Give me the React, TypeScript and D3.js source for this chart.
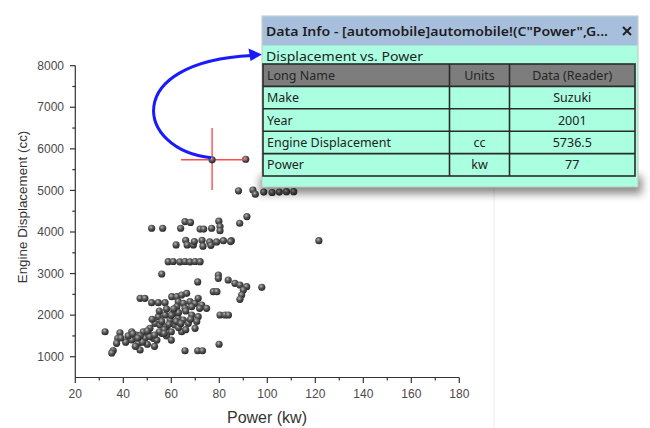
import React from "react";
import * as d3 from "d3";

const power = [
  91, 88, 94, 95, 98.5, 102, 105, 108, 111, 88.5, 91.5, 85, 121.5,
  51.8, 56.4, 63.9, 65.7, 68, 72, 73.5, 76.8, 79.8, 80.3, 80.3,
  62, 66, 66.6, 69.2, 69.6, 72.8, 73.2, 76, 76.5, 78.9, 81.7, 84.7,
  58.7, 60.8, 63.6, 65.7, 67.8, 69.9, 72,
  56, 71, 79.6, 79.6, 83.7, 86.5, 88.6, 91.4, 97.7, 90, 89.3, 88.6, 77.5, 79,
  80.3, 82.4, 83.8, 79.9, 65.7, 71, 73,
  32.4, 38.6, 37.7, 37.2, 35.8, 35.2,
  43.5, 43.5, 45.6, 46.2, 47, 48.3, 49, 50.4, 51.1, 52.5, 53.2, 54.6, 55.3, 56, 57.4, 58.1, 59.5,
  60.8, 61.5, 62.9, 64.3, 65, 67.1, 68.5, 69.9, 71.2,
  47, 49, 51.8, 54.6, 57.4, 60.2, 62.3, 64.3, 66.4, 62.9, 65, 67.8, 69.9, 72.7, 62.3, 65.7, 68.5,
  71.2, 74.7, 71.8, 70.6,
  55, 58, 60, 63, 66, 52, 56, 63, 66, 60, 57, 68, 61, 47, 45, 50, 53, 41, 55, 58, 60, 48, 54, 39, 42, 51, 59, 62, 64,
  44, 46, 50, 53, 57,
];
const displacement = [
  5750, 4990, 5010, 4910, 4960, 4950, 4960, 4970, 4970, 4210, 4370, 3790, 3790,
  4090, 4090, 4090, 4250, 4230, 4070, 4070, 4090, 4260, 4130, 4030,
  3690, 3800, 3690, 3690, 3770, 3800, 3660, 3760, 3680, 3760, 3790, 3770,
  3285, 3290, 3280, 3290, 3280, 3290, 3285,
  2990, 2800, 2965, 2885, 2845, 2766, 2725, 2684, 2670, 2605, 2484, 2380, 2564, 2564,
  2003, 2003, 2003, 1300, 1144, 1144, 1144,
  1601, 1577, 1443, 1322, 1150, 1090,
  1601, 1402, 1522, 1322, 1161, 1601, 1443, 1563, 1683, 1443, 1803, 1962, 1763, 1563, 2003, 1722, 1883,
  2044, 1763, 1924, 1601, 1883, 1803, 2003, 1683, 1962,
  2405, 2405, 2300, 2300, 2300, 2443, 2443, 2484, 2525, 2323, 2285, 2323, 2285, 2244, 2203, 2164, 2203,
  2405, 2164, 2164, 1850,
  2100, 2150, 2000, 2060, 2100, 1900, 1850, 1700, 1650, 1600, 1650, 1900, 2150, 1500, 1250, 1300, 1250, 1350, 1600, 1500, 1400, 1350, 1400, 1450, 1500, 1480, 1780, 1850, 1800,
  1550, 1450, 1620, 1520, 1560,
];
const selectedPower = 77;
const selectedDisplacement = 5736.5;

const xTicks = [20, 40, 60, 80, 100, 120, 140, 160, 180];
const xMinor = [30, 50, 70, 90, 110, 130, 150, 170];
const yTicks = [1000, 2000, 3000, 4000, 5000, 6000, 7000, 8000];
const yMinor = [1500, 2500, 3500, 4500, 5500, 6500, 7500];
const xTitle = "Power (kw)";
const yTitle = "Engine Displacement (cc)";

const panelTitle = 'Data Info - [automobile]automobile!(C"Power",G...';
const panelSubtitle = "Displacement vs. Power";
const tableHeader = ["Long Name", "Units", "Data (Reader)"];
const rowNames = ["Make", "Year", "Engine Displacement", "Power"];
const rowUnits = ["", "", "cc", "kw"];
const rowValues = ["Suzuki", "2001", "5736.5", "77"];

export default function App() {
  const x = d3.scaleLinear().domain([20, 180]).range([75.3, 459.3]);
  const y = d3.scaleLinear().domain([500, 8000]).range([377.5, 65.7]);
  const axisFont = "'Liberation Sans', Arial, sans-serif";
  const panelFont = "'Noto Sans', 'Open Sans', sans-serif";

  const px = 262, py = 16, pw = 376, ph = 171;
  const titleH = 29;
  const tableTop = 64, rowH = 22.4, tableL = 263, tableR = 635;
  const col1 = 449.5, col2 = 509.5;
  const allRows = [tableHeader, ...rowNames.map((n, i) => [n, rowUnits[i], rowValues[i]])];

  const sx = x(selectedPower), sy = y(selectedDisplacement);

  const arrowPath = d3.path();
  arrowPath.moveTo(sx - 1, sy - 2);
  arrowPath.bezierCurveTo(136, 150, 120, 62, 252, 55.5);

  return (
    <svg width={650} height={428} style={{ position: "absolute", left: 0, top: 0, background: "#fff" }}>
      <defs>
        <radialGradient id="ball" cx="40%" cy="35%" r="65%">
          <stop offset="0%" stopColor="#b8b8b8" />
          <stop offset="45%" stopColor="#5a5a5a" />
          <stop offset="100%" stopColor="#262626" />
        </radialGradient>
        <filter id="shadowBlur" x="-10%" y="-50%" width="120%" height="200%">
          <feGaussianBlur stdDeviation="4" />
        </filter>
      </defs>

      {/* faint window edge */}
      <line x1={494} x2={494} y1={188} y2={428} stroke="#ececec" strokeWidth={1} />

      {/* axes */}
      <g stroke="#333" strokeWidth={1.2} fill="none">
        <line x1={x(20)} x2={x(180)} y1={377.5} y2={377.5} />
        <line x1={75.3} x2={75.3} y1={y(500)} y2={y(8000)} />
        {xTicks.map((t) => (
          <line key={"xt" + t} x1={x(t)} x2={x(t)} y1={377.5} y2={383} />
        ))}
        {xMinor.map((t) => (
          <line key={"xm" + t} x1={x(t)} x2={x(t)} y1={377.5} y2={380.5} />
        ))}
        {yTicks.map((t) => (
          <line key={"yt" + t} x1={70} x2={75.3} y1={y(t)} y2={y(t)} />
        ))}
        {yMinor.map((t) => (
          <line key={"ym" + t} x1={72.3} x2={75.3} y1={y(t)} y2={y(t)} />
        ))}
      </g>
      <g fontFamily={axisFont} fontSize={12} fill="#4a4a4a">
        {xTicks.map((t) => (
          <text key={"xl" + t} x={x(t)} y={397.5} textAnchor="middle">{t}</text>
        ))}
        {yTicks.map((t) => (
          <text key={"yl" + t} x={64} y={y(t) + 4.2} textAnchor="end">{t}</text>
        ))}
      </g>
      <text x={267} y={422.5} textAnchor="middle" fontFamily={axisFont} fontSize={16} fill="#333">{xTitle}</text>
      <text transform="translate(27,207) rotate(-90)" textAnchor="middle" fontFamily={axisFont} fontSize={13.4} fill="#333">{yTitle}</text>

      {/* points */}
      <g>
        {power.map((p, i) => (
          <circle key={i} cx={x(p)} cy={y(displacement[i])} r={3.6} fill="url(#ball)" />
        ))}
      </g>

      {/* crosshair */}
      <g stroke="#ff4a4a" strokeWidth={1.4}>
        <line x1={181} x2={247} y1={sy} y2={sy} />
        <line x1={sx} x2={sx} y1={128} y2={190} />
      </g>
      <circle cx={sx} cy={sy} r={3.6} fill="url(#ball)" />

      {/* arrow */}
      <path d={arrowPath.toString()} fill="none" stroke="#1a1aff" strokeWidth={3} />
      <polygon points="262,54.5 248.5,48.5 250.5,61" fill="#1a1aff" />

      {/* panel shadow */}
      <rect x={260} y={176} width={382} height={18} fill="#000" opacity={0.45} filter="url(#shadowBlur)" />

      {/* panel */}
      <rect x={px} y={py} width={pw} height={ph} fill="#aaffe0" stroke="#c4c4c4" strokeWidth={1} />
      <rect x={px + 0.5} y={py + 0.5} width={pw - 1} height={titleH} fill="#a7bedc" />
      <text x={266} y={36} fontFamily={panelFont} fontSize={12.5} fontWeight={600} fill="#1e1e1e"
        textLength={342} lengthAdjust="spacingAndGlyphs">{panelTitle}</text>
      <g stroke="#222" strokeWidth={2}>
        <line x1={623} x2={631} y1={27} y2={35} />
        <line x1={631} x2={623} y1={27} y2={35} />
      </g>
      <text x={266} y={60.5} fontFamily={panelFont} fontSize={12.5} fill="#222"
        textLength={157} lengthAdjust="spacingAndGlyphs">{panelSubtitle}</text>

      {/* table */}
      <rect x={tableL} y={tableTop} width={tableR - tableL} height={rowH} fill="#7d7d7d" />
      {allRows.map((row, i) => {
        const cy = tableTop + rowH * i + rowH / 2;
        return (
          <g key={"r" + i} fontFamily={panelFont} fontSize={12.5} fill={i === 0 ? "#262626" : "#222"}>
            <text x={267} y={cy + 4.5}>{row[0]}</text>
            <text x={(col1 + col2) / 2} y={cy + 4.5} textAnchor="middle">{row[1]}</text>
            <text x={(col2 + tableR) / 2} y={cy + 4.5} textAnchor="middle">{row[2]}</text>
          </g>
        );
      })}
      <g stroke="#2b2b2b" strokeWidth={1.6} fill="none">
        <rect x={tableL} y={tableTop} width={tableR - tableL} height={rowH * 5} />
        {[1, 2, 3, 4].map((i) => (
          <line key={"h" + i} x1={tableL} x2={tableR} y1={tableTop + rowH * i} y2={tableTop + rowH * i} />
        ))}
        <line x1={col1} x2={col1} y1={tableTop} y2={tableTop + rowH * 5} />
        <line x1={col2} x2={col2} y1={tableTop} y2={tableTop + rowH * 5} />
      </g>
    </svg>
  );
}
